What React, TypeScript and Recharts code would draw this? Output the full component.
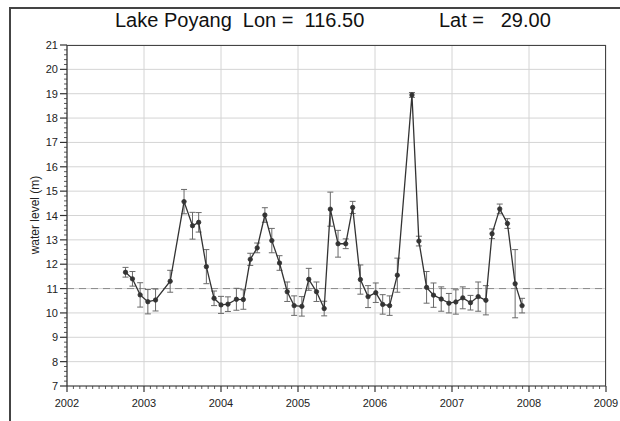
import React from 'react';
import { LineChart, Line, XAxis, YAxis, CartesianGrid, ErrorBar, ReferenceLine } from 'recharts';

// decimal year of each altimetry pass
const years = [
  2002.76, 2002.85, 2002.95, 2003.05, 2003.15, 2003.34, 2003.52, 2003.63, 2003.71, 2003.81,
  2003.91, 2004.0, 2004.09, 2004.2, 2004.29, 2004.38, 2004.47, 2004.57, 2004.66, 2004.76,
  2004.86, 2004.95, 2005.05, 2005.14, 2005.24, 2005.34, 2005.42, 2005.52, 2005.62, 2005.71,
  2005.81, 2005.91, 2006.01, 2006.1, 2006.19, 2006.29, 2006.48, 2006.57, 2006.67, 2006.76,
  2006.86, 2006.96, 2007.05, 2007.14, 2007.24, 2007.34, 2007.44, 2007.52, 2007.62, 2007.72,
  2007.82, 2007.91,
];
const levels = [
  11.67, 11.4, 10.74, 10.46, 10.53, 11.3, 14.57, 13.58, 13.72, 11.9,
  10.6, 10.33, 10.36, 10.56, 10.55, 12.2, 12.67, 14.02, 12.97, 12.05,
  10.87, 10.3, 10.27, 11.38, 10.87, 10.18, 14.26, 12.84, 12.84, 14.33,
  11.37, 10.67, 10.83, 10.35, 10.3, 11.55, 18.95, 12.95, 11.05, 10.73,
  10.57, 10.4, 10.45, 10.62, 10.42, 10.67, 10.52, 13.25, 14.27, 13.67,
  11.2, 10.3,
];
const errors = [
  0.2, 0.3, 0.5, 0.5, 0.45, 0.45, 0.5, 0.55, 0.4, 0.7,
  0.3, 0.35, 0.3, 0.45, 0.4, 0.25, 0.2, 0.3, 0.5, 0.3,
  0.4, 0.4, 0.4, 0.45, 0.4, 0.3, 0.7, 0.55, 0.2, 0.25,
  0.6, 0.45, 0.4, 0.4, 0.4, 0.7, 0.1, 0.2, 0.65, 0.5,
  0.5, 0.4, 0.5, 0.45, 0.3, 0.6, 0.6, 0.2, 0.2, 0.2,
  1.4, 0.3,
];

const yearTicks = [2002, 2003, 2004, 2005, 2006, 2007, 2008, 2009];
const levelTicks = [7, 8, 9, 10, 11, 12, 13, 14, 15, 16, 17, 18, 19, 20, 21];

// minor ticks: months on x, 0.2 m on y
const xMinor: number[] = [];
for (let i = 0; i <= 84; i++) xMinor.push(+(2002 + i / 12).toFixed(4));
const yMinor: number[] = [];
for (let i = 0; i <= 70; i++) yMinor.push(+(7 + i * 0.2).toFixed(2));

const data = years.map((t, i) => ({ t, level: levels[i], err: errors[i] }));

const FONT = '"Liberation Sans", Arial, sans-serif';

const XTick = (props: any) => {
  const { x, y, payload } = props;
  const major = yearTicks.includes(payload.value);
  return (
    <g>
      <line x1={x} x2={x} y1={y} y2={y + (major ? 6 : 3)} stroke="#333" strokeWidth={major ? 1.2 : 0.8} />
      {major && (
        <text x={x} y={y + 21} textAnchor="middle" fontSize={11} fill="#222" fontFamily={FONT}>
          {payload.value}
        </text>
      )}
    </g>
  );
};

const YTick = (props: any) => {
  const { x, y, payload } = props;
  const major = Number.isInteger(payload.value);
  return (
    <g>
      <line x1={x - (major ? 7 : 3)} x2={x} y1={y} y2={y} stroke="#333" strokeWidth={major ? 1.2 : 0.8} />
      {major && (
        <text x={x - 9} y={y + 4} textAnchor="end" fontSize={11} fill="#222" fontFamily={FONT}>
          {payload.value}
        </text>
      )}
    </g>
  );
};

export default function App() {
  return (
    <div style={{ position: 'absolute', left: 0, top: 0, width: 620, height: 421, background: '#fff', overflow: 'hidden', fontFamily: FONT }}>
      <div style={{ position: 'absolute', left: 9, top: 7, width: 640, height: 430, borderTop: '2px solid #444', borderLeft: '2px solid #444' }} />
      <div style={{ position: 'absolute', left: 115, top: 9, fontSize: 20, color: '#111', whiteSpace: 'pre' }}>
        Lake Poyang  Lon =  116.50
      </div>
      <div style={{ position: 'absolute', left: 439, top: 9, fontSize: 20, color: '#111', whiteSpace: 'pre' }}>
        Lat =   29.00
      </div>
      <div
        style={{
          position: 'absolute', left: 35, top: 215, fontSize: 12, color: '#222', whiteSpace: 'nowrap',
          transform: 'translate(-50%, -50%) rotate(-90deg)',
        }}
      >
        water level (m)
      </div>
      <div style={{ position: 'absolute', left: 0, top: 0 }}>
        <LineChart width={620} height={421} data={data} margin={{ top: 45, right: 14, bottom: 0, left: 0 }}>
          <CartesianGrid stroke="#d4d4d4" strokeWidth={1} horizontalValues={levelTicks} verticalValues={yearTicks} />
          <ReferenceLine y={11} stroke="#8a8a8a" strokeDasharray="7 5" />
          <XAxis
            dataKey="t" type="number" domain={[2002, 2009]} ticks={xMinor} interval={0}
            height={35} tickSize={0} tickMargin={0} tick={<XTick />} axisLine={{ stroke: '#333', strokeWidth: 1.2 }}
            allowDataOverflow
          />
          <YAxis
            type="number" domain={[7, 21]} ticks={yMinor} interval={0}
            width={67} tickSize={0} tickMargin={0} tick={<YTick />} axisLine={{ stroke: '#333', strokeWidth: 1.2 }}
            allowDataOverflow
          />
          <Line
            dataKey="level" type="linear" stroke="#333" strokeWidth={1.3}
            dot={{ r: 2.2, fill: '#333', stroke: '#333', strokeWidth: 0.8 }}
            isAnimationActive={false}
          >
            <ErrorBar dataKey="err" direction="y" width={3} stroke="#6a6a6a" strokeWidth={1} isAnimationActive={false} />
          </Line>
        </LineChart>
      </div>
      <div style={{ position: 'absolute', left: 67, top: 45, width: 539, height: 341, borderTop: '1.2px solid #444', borderRight: '1.2px solid #444', boxSizing: 'border-box', pointerEvents: 'none' }} />
    </div>
  );
}
